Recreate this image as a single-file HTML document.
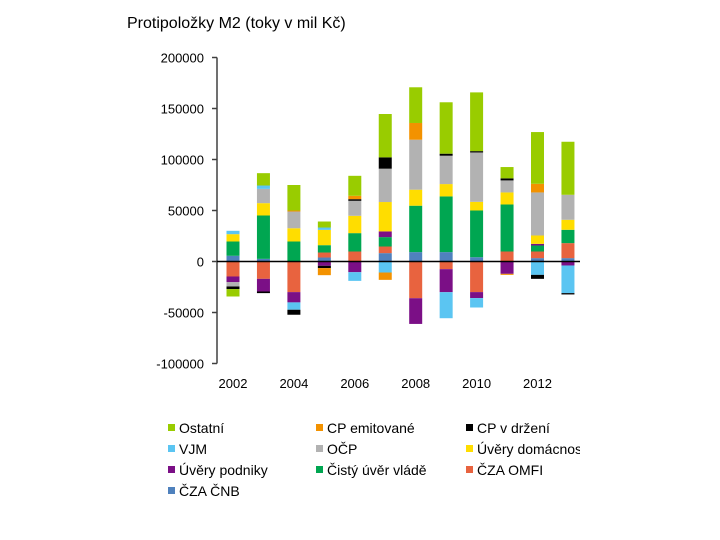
<!DOCTYPE html>
<html><head><meta charset="utf-8"><style>
body{margin:0;background:#fff;}
svg{display:block;}
</style></head><body>
<svg id="chart" width="720" height="540" xmlns="http://www.w3.org/2000/svg">
<defs><clipPath id="lc"><rect x="0" y="0" width="580" height="540"/></clipPath></defs>
<text x="127" y="28" font-family="Liberation Sans, sans-serif" font-size="16" fill="#000">Protipoložky M2 (toky v mil Kč)</text>
<g id="plot"></g>
<g id="legend" clip-path="url(#lc)"></g>
</svg>
<script>
const years = [2002,2003,2004,2005,2006,2007,2008,2009,2010,2011,2012,2013];
const seriesNames = ["ČZA ČNB","ČZA OMFI","Čistý úvěr vládě","Úvěry podniky","Úvěry domácností","OČP","VJM","CP v držení","CP emitované","Ostatní"];
const seriesColors = ["#4f81bd","#e8633f","#00a651","#7b0f86","#ffdd00","#b2b2b2","#5bc5f2","#000000","#f39200","#99cc00"];
const czaCnb   = [5600,2600,0,3900,0,8200,9200,9200,4200,0,3300,3300];
const czaOmfi  = [-14700,-17000,-30000,4900,9800,6500,-36000,-7500,-30000,9800,6500,14700];
const uverVlade= [14000,42500,19600,7200,18000,9200,45500,54600,45800,46100,5900,13100];
const podniky  = [-5600,-12400,-10100,-4200,-10500,5600,-25200,-22600,-5900,-12100,1600,-3900];
const domacnosti=[7200,12100,13000,15000,17000,28800,15700,12100,8500,11800,8200,9800];
const ocp      = [-4200,14000,16400,0,14700,32700,49000,27800,48400,11800,42200,24500];
const vjm      = [3300,3300,-7200,2300,-8500,-10800,0,-25500,-9200,0,-13100,-27100];
const cpDrzeni = [-2600,-1600,-4900,-2300,1600,11100,0,2000,1300,2000,-3900,-1300];
const cpEmit   = [0,0,1000,-6900,3300,-7200,16400,0,0,-1000,8500,0];
const ostatni  = [-7200,12100,25000,5900,19600,42500,35000,50400,57600,11100,50700,52000];
const seriesValues = [czaCnb,czaOmfi,uverVlade,podniky,domacnosti,ocp,vjm,cpDrzeni,cpEmit,ostatni];
const yTicks = [-100000,-50000,0,50000,100000,150000,200000];
const xLabels = [2002,2004,2006,2008,2010,2012];

const NS="http://www.w3.org/2000/svg";
const plot=document.getElementById('plot');
const X0=217, Y0=261.5, PX=0.00102;
function yPos(v){return Y0 - v*PX;}
function xPos(yr){return 233 + (yr-2002)*30.45;}
function mk(tag,attrs,parent){const e=document.createElementNS(NS,tag);for(const k in attrs)e.setAttribute(k,attrs[k]);parent.appendChild(e);return e;}

// y axis
const ax=mk('line',{x1:X0,y1:yPos(200000),x2:X0,y2:yPos(-100000),stroke:'#404040','stroke-width':1.5},plot);


yTicks.forEach(t=>{
  const tk=mk('line',{x1:X0-5,y1:yPos(t),x2:X0,y2:yPos(t),stroke:'#404040','stroke-width':1.5},plot);
  
  
  const tl=mk('text',{x:204,y:yPos(t)+5,'text-anchor':'end','font-family':'Liberation Sans, sans-serif','font-size':13,fill:'#000'},plot);
  tl.textContent=t;
  
  
});
xLabels.forEach(yr=>{
  const tl=mk('text',{x:xPos(yr),y:388,'text-anchor':'middle','font-family':'Liberation Sans, sans-serif','font-size':13,fill:'#000'},plot);
  tl.textContent=yr;
  
  
});
// bars
years.forEach((yr,i)=>{
  let pos=0,neg=0;
  seriesValues.forEach((arr,s)=>{
    const v=arr[i]; if(!v)return;
    let a,b;
    if(v>0){a=pos;b=pos+v;pos=b;}else{a=neg;b=neg+v;neg=b;}
    const y1=yPos(Math.max(a,b)), y2=yPos(Math.min(a,b));
    const r=mk('rect',{x:xPos(yr)-6.5,y:y1,width:13,height:y2-y1,fill:seriesColors[s]},plot);
    
    
  });
});
const zl=mk('line',{x1:X0,y1:Y0,x2:580,y2:Y0,stroke:'#000','stroke-width':1.5},plot);



// legend
const legendOrder=[9,8,7,6,5,4,3,2,1,0];
const colX=[168,316,466], rowY=[428,449,470,491];
const lg=document.getElementById('legend');
legendOrder.forEach((s,k)=>{
  const cx=colX[k%3], cy=rowY[Math.floor(k/3)];
  const g=mk('g',{},lg);
  
  
  mk('rect',{x:cx,y:cy-4,width:7,height:7,fill:seriesColors[s]},g);
  const t=mk('text',{x:cx+11,y:cy+5,'font-family':'Liberation Sans, sans-serif','font-size':14,fill:'#000'},g);
  t.textContent=seriesNames[s];
});
</script>
</body></html>
